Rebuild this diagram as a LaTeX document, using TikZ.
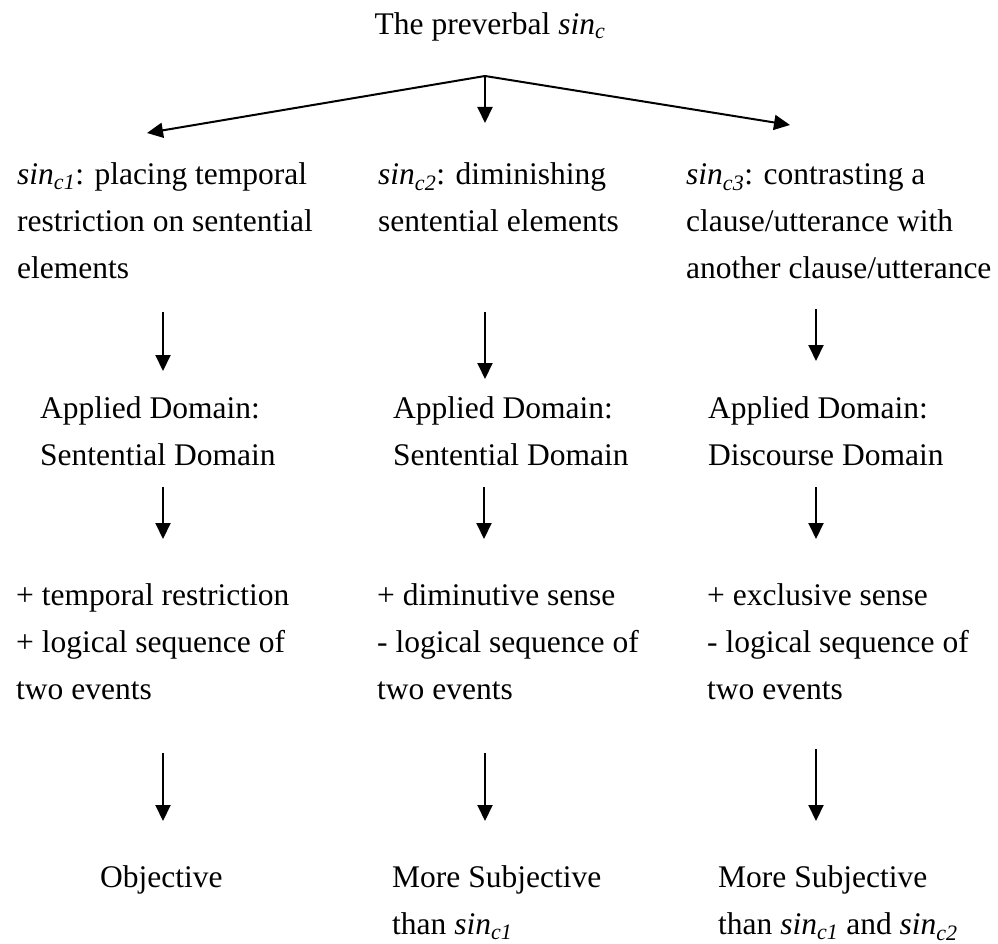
\documentclass[tikz,border=0pt]{standalone}
\usepackage{fontspec}
\setmainfont{Liberation Serif}
\usetikzlibrary{arrows.meta}
\newcommand{\sinsub}[1]{\textit{sin\textsubscript{#1}}}
\begin{document}
\begin{tikzpicture}[x=1pt,y=-1pt,
  txt/.style={inner sep=0pt,anchor=base west,align=left,
    font=\fontsize{31.5}{47}\selectfont},
  arr/.style={line width=2pt,-{Triangle[width=15pt,length=16pt]}}]
\useasboundingbox (0,0) rectangle (998,944);

% title (anchored at the baseline; multi-line nodes below are
% anchored at the baseline of their last line)
\node[txt,anchor=base] (top) at (490,35) {The preverbal \sinsub{c}};
\coordinate (apex) at (485,76);

% first level: the three senses
\node[txt] (s1) at (17,278) {\sinsub{c1}: placing temporal\\restriction on sentential\\elements};
\node[txt] (s2) at (378,231) {\sinsub{c2}: diminishing\\sentential elements};
\node[txt] (s3) at (686,278) {\sinsub{c3}: contrasting a\\clause/utterance with\\another clause/utterance};

\coordinate (t1) at (147,133);
\coordinate (t2) at (485,123);
\coordinate (t3) at (790,125);
\draw[arr] (apex) -- (t1);
\draw[arr] (apex) -- (t2);
\draw[arr] (apex) -- (t3);

% applied domains
\node[txt] (d1) at (40,465) {Applied Domain:\\Sentential Domain};
\node[txt] (d2) at (393,465) {Applied Domain:\\Sentential Domain};
\node[txt] (d3) at (708,465) {Applied Domain:\\Discourse Domain};

% features
\node[txt] (f1) at (16,699) {+ temporal restriction\\+ logical sequence of\\two events};
\node[txt] (f2) at (377,699) {+ diminutive sense\\- logical sequence of\\two events};
\node[txt] (f3) at (707,699) {+ exclusive sense\\- logical sequence of\\two events};

% degree of subjectivity
\node[txt] (o1) at (100,887) {Objective};
\node[txt] (o2) at (392,934) {More Subjective\\than \sinsub{c1}};
\node[txt] (o3) at (718,934) {More Subjective\\than \sinsub{c1} and \sinsub{c2}};

% vertical arrows between the levels
\coordinate (a1a) at (163,312); \coordinate (a1b) at (163,371);
\coordinate (a2a) at (485,312); \coordinate (a2b) at (485,379);
\coordinate (a3a) at (816,309); \coordinate (a3b) at (816,361);
\coordinate (b1a) at (163,487); \coordinate (b1b) at (163,539);
\coordinate (b2a) at (484,487); \coordinate (b2b) at (484,539);
\coordinate (b3a) at (816,487); \coordinate (b3b) at (816,539);
\coordinate (c1a) at (163,753); \coordinate (c1b) at (163,821);
\coordinate (c2a) at (485,753); \coordinate (c2b) at (485,821);
\coordinate (c3a) at (816,749); \coordinate (c3b) at (816,821);
\foreach \p in {a1,a2,a3,b1,b2,b3,c1,c2,c3}
  \draw[arr] (\p a) -- (\p b);
\end{tikzpicture}
\end{document}
